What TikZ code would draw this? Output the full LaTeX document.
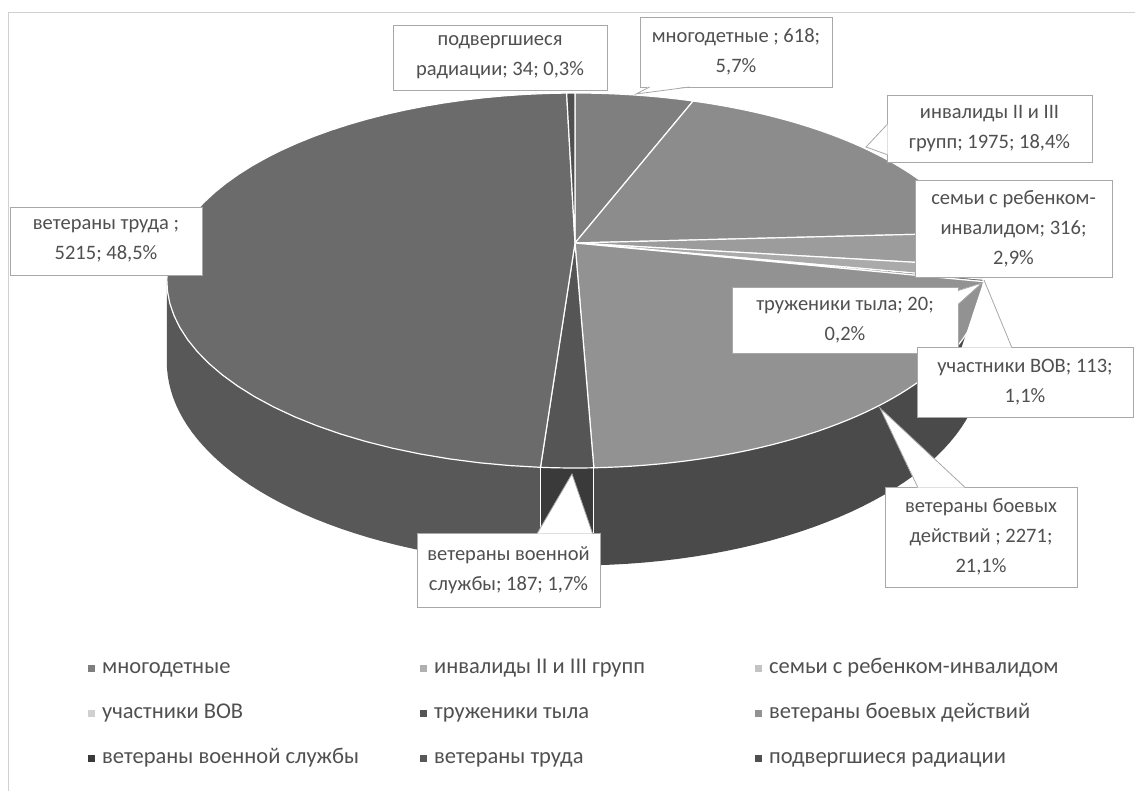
\documentclass[tikz,border=0pt]{standalone}
\usepackage{fontspec}
\setmainfont{Carlito}
\pgfmathdeclarefunction{PX}{1}{\pgfmathparse{575+400*sin(#1)/(1+0.2*cos(#1))}}
\pgfmathdeclarefunction{PY}{1}{\pgfmathparse{243-180*cos(#1)/(1+0.2*cos(#1))}}
\pgfmathdeclarefunction{PB}{1}{\pgfmathparse{243+(78-180*cos(#1))/(1+0.2*cos(#1))}}
\definecolor{tmnog}{HTML}{7F7F7F}
\definecolor{tinv}{HTML}{8C8C8C}
\definecolor{tsem}{HTML}{9C9C9C}
\definecolor{tuch}{HTML}{AAAAAA}
\definecolor{ttrud}{HTML}{6A6A6A}
\definecolor{tboev}{HTML}{929292}
\definecolor{tvoen}{HTML}{555555}
\definecolor{ttruda}{HTML}{6B6B6B}
\definecolor{trad}{HTML}{505050}
\definecolor{sboev}{HTML}{4A4A4A}
\definecolor{svoen}{HTML}{3A3A3A}
\definecolor{struda}{HTML}{585858}
\definecolor{strud}{HTML}{555555}
\definecolor{txt}{HTML}{505050}
\definecolor{frame}{HTML}{A8A8A8}
\begin{document}
\begin{tikzpicture}[x=1pt,y=-1pt,
  lbl/.style={draw=frame,fill=white,line width=0.8pt,align=center,text=txt,
    font=\fontsize{20.5}{30}\selectfont,inner sep=0pt},
  wedge/.style={fill=white},
  wedgeline/.style={draw=frame,line width=0.8pt},
  leg/.style={anchor=base west,text=txt,font=\fontsize{22.5}{26}\selectfont,inner sep=0pt},
  mk/.style={minimum size=7pt,inner sep=0pt}]
\useasboundingbox (0,0) rectangle (1135,791);
\draw[black!18,line width=0.8pt] (8,791) -- (8,12) -- (1135,12);
% sides
\foreach \a/\b/\c in {101.5/101.88/strud,101.88/177.84/sboev,177.84/183.96/svoen,183.96/258.5/struda}{
  \fill[\c] plot[domain=\a:\b,samples=40] ({PX(\x)},{PY(\x)}) -- plot[domain=\b:\a,samples=40] ({PX(\x)},{PB(\x)}) -- cycle;
}
\foreach \t in {177.84,183.96}{
  \draw[white,line width=1.2pt] ({PX(\t)},{PY(\t)}) -- ({PX(\t)},{PB(\t)});
}
% top faces
\coordinate (o) at (575,243);
\foreach \a/\b/\c in {0/20.52/tmnog,20.52/86.76/tinv,86.76/97.2/tsem,97.2/101.16/tuch,101.16/101.88/ttrud,101.88/177.84/tboev,177.84/183.96/tvoen,183.96/358.56/ttruda,358.56/360/trad}{
  \filldraw[fill=\c,draw=white,line width=1.2pt,line join=round] (o) -- plot[domain=\a:\b,samples=50] ({PX(\x)},{PY(\x)}) -- cycle;
}
% callouts
\node[lbl,minimum width=214pt,minimum height=65pt] (rad) at (500,57.5) {подвергшиеся\\радиации; 34; 0,3\%};
\node[lbl,minimum width=192pt,minimum height=70pt] (mnog) at (736,52) {многодетные ; 618;\\5,7\%};
\node[lbl,minimum width=205pt,minimum height=67pt] (inv) at (989.5,128.5) {инвалиды II и III\\групп; 1975; 18,4\%};
\node[lbl,minimum width=197pt,minimum height=97pt] (sem) at (1013.5,228.5) {семьи с ребенком-\\инвалидом; 316;\\2,9\%};
\node[lbl,minimum width=226pt,minimum height=66pt] (trud) at (845,320) {труженики тыла; 20;\\0,2\%};
\node[lbl,minimum width=216pt,minimum height=70pt] (uch) at (1025,382) {участники ВОВ; 113;\\1,1\%};
\node[lbl,minimum width=192pt,minimum height=100pt] (boev) at (981,537) {ветераны боевых\\действий ; 2271;\\21,1\%};
\node[lbl,minimum width=183pt,minimum height=74pt] (voen) at (508.5,570) {ветераны военной\\службы; 187; 1,7\%};
\node[lbl,minimum width=192pt,minimum height=68pt] (truda) at (106,241) {ветераны труда ;\\5215; 48,5\%};
% pointers
\coordinate (pvoen) at (572,474);
\coordinate (pboev) at (880,408);
\coordinate (puch) at (984,280);
\coordinate (ptrud) at (982,283);
\coordinate (pinv) at (866,147);
\coordinate (pmnog) at (636,94);
\fill[wedge] ([xshift=-63pt,yshift=-1pt]voen.north east) -- (pvoen) -- ([xshift=-8pt,yshift=-1pt]voen.north east) -- cycle;
\draw[wedgeline] ([xshift=-63pt,yshift=-0.4pt]voen.north east) -- (pvoen) -- ([xshift=-8pt,yshift=-0.4pt]voen.north east);
\fill[wedge] ([xshift=33pt,yshift=-1pt]boev.north west) -- (pboev) -- ([xshift=80pt,yshift=-1pt]boev.north west) -- cycle;
\draw[wedgeline] ([xshift=33pt,yshift=-0.4pt]boev.north west) -- (pboev) -- ([xshift=80pt,yshift=-0.4pt]boev.north west);
\fill[wedge] ([xshift=45pt,yshift=-1pt]uch.north west) -- (puch) -- ([xshift=95pt,yshift=-1pt]uch.north west) -- cycle;
\draw[wedgeline] ([xshift=95pt,yshift=-0.4pt]uch.north west) -- (puch);
\fill[wedge] ([xshift=-1pt,yshift=-4pt]trud.north east) -- (ptrud) -- ([xshift=-1pt,yshift=-18pt]trud.north east) -- cycle;
\draw[wedgeline] ([xshift=-0.4pt,yshift=-4pt]trud.north east) -- (ptrud) -- ([xshift=-0.4pt,yshift=-18pt]trud.north east);
\fill[wedge] ([xshift=1pt,yshift=-30pt]inv.north west) -- (pinv) -- ([xshift=1pt,yshift=-60pt]inv.north west) -- cycle;
\draw[wedgeline] ([xshift=0.4pt,yshift=-30pt]inv.north west) -- (pinv) -- ([xshift=0.4pt,yshift=-60pt]inv.north west);
\fill[wedge] ([xshift=10pt,yshift=1pt]mnog.south west) -- (pmnog) -- ([xshift=50pt,yshift=1pt]mnog.south west) -- cycle;
\draw[wedgeline] ([xshift=10pt,yshift=0.4pt]mnog.south west) -- (pmnog) -- ([xshift=50pt,yshift=0.4pt]mnog.south west);
% legend
\foreach \mx/\my/\c/\t/\n in {91/668/tmnog/многодетные/l1,423/668/tsem!80!white/инвалиды II и III групп/l2,758/668/tuch!70!white/семьи с ребенком-инвалидом/l3,
  91/713/tuch!55!white/участники ВОВ/l4,423/713/strud/труженики тыла/l5,758/713/tboev/ветераны боевых действий/l6,
  91/758/svoen/ветераны военной службы/l7,423/758/struda/ветераны труда/l8,758/758/trad/подвергшиеся радиации/l9}{
  \node[mk,fill=\c] (m\n) at (\mx,\my) {};
  \node[leg] (\n) at (\mx+11,\my+5.5) {\t};
}
\end{tikzpicture}
\end{document}
